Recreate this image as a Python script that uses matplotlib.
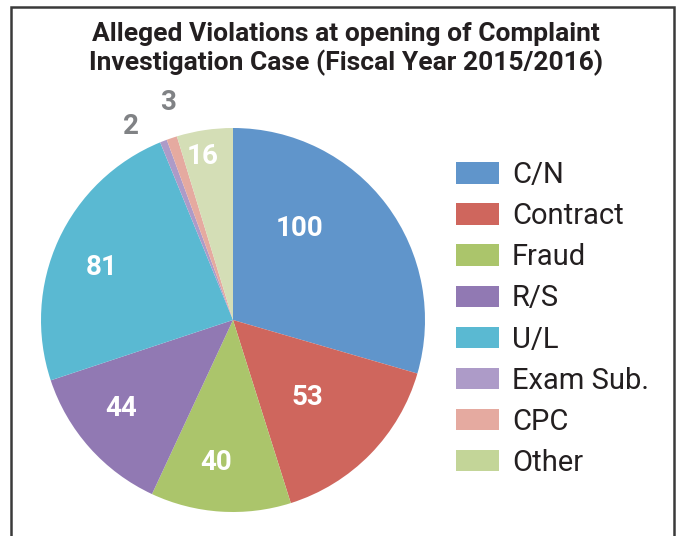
import matplotlib
matplotlib.use('Agg')
import matplotlib.pyplot as plt
from matplotlib.patches import Patch, Rectangle
import numpy as np

categories = ['C/N', 'Contract', 'Fraud', 'R/S', 'U/L', 'Exam Sub.', 'CPC', 'Other']
values = [100, 53, 40, 44, 81, 2, 3, 16]
colors = ['#6095cb', '#cf665d', '#abc56b', '#9179b3', '#5ab9d2', '#ad9bc8', '#e5aaa0', '#d4deb6']
legend_colors = ['#6095cb', '#cf665d', '#abc56b', '#9179b3', '#5ab9d2', '#ad9bc8', '#e5aaa0', '#c3d598']
title = 'Alleged Violations at opening of Complaint\nInvestigation Case (Fiscal Year 2015/2016)'

# label placement (angle in degrees, distance as fraction of radius)
label_pos = [(54, 0.59), (-46.5, 0.56), (-96.8, 0.745), (-141.8, 0.742), (158.3, 0.734),
             (117.7, 1.14), (106.7, 1.18), (100.4, 0.868)]
label_colors = ['white'] * 5 + ['#808285', '#808285', 'white']

fam = ['Roboto', 'DejaVu Sans']

fig = plt.figure(figsize=(6.76, 5.36), dpi=100)
W, H = 676, 536

# frame around the chart
fig.patches.append(Rectangle((10.5 / W, -0.05), 663.5 / W, (529 / H) + 0.05,
                             transform=fig.transFigure, fill=False,
                             edgecolor='#3a3a3a', linewidth=1.8, clip_on=False))

fig.text(346 / W, 1 - 49 / H, title, ha='center', va='center', fontsize=19,
         fontweight='bold', family=fam, color='#231f20', linespacing=1.22)

# pie: center (233, 320) px, radius 192 px
ax = fig.add_axes([(233 - 192) / W, (H - 320 - 192) / H, 384 / W, 384 / H])
wedges, _ = ax.pie(values, colors=colors, startangle=90, counterclock=False,
                   radius=1, wedgeprops=dict(linewidth=0))
ax.set_xlim(-1, 1)
ax.set_ylim(-1, 1)
ax.set_aspect('equal')
ax.axis('off')

for v, (ang, r), c in zip(values, label_pos, label_colors):
    a = np.deg2rad(ang)
    ax.text(r * np.cos(a), r * np.sin(a), str(v), ha='center', va='center',
            fontsize=20, fontweight='bold', color=c, family=fam, clip_on=False)

handles = [Patch(facecolor=c, edgecolor='none') for c in legend_colors]
fig.legend(handles, categories, loc='upper left', bbox_to_anchor=(456 / W, 1 - 161 / H),
           frameon=False, borderpad=0, borderaxespad=0,
           handlelength=1.47, handleheight=0.75, handletextpad=0.45,
           labelspacing=0.45, prop={'family': fam, 'size': 21},
           labelcolor='#231f20')

fig.savefig('out.png', dpi=100)
